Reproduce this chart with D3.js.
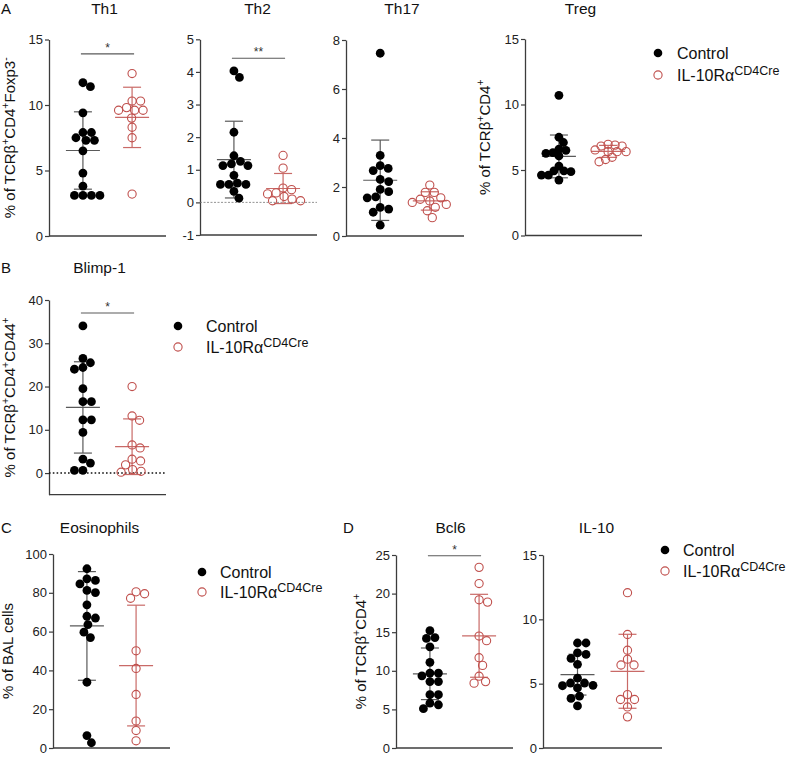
<!DOCTYPE html>
<html>
<head>
<meta charset="utf-8">
<script src="https://cdn.jsdelivr.net/npm/d3@7"></script>
<style>
  body { margin: 0; background: #fff; }
  text { font-family: "Liberation Sans", Arial, sans-serif; }
</style>
</head>
<body>
<svg id="fig" width="788" height="757"></svg>
<script>
'use strict';

// values (% of parent gate), one number per mouse
const groups = ['Control', 'IL-10Ra CD4Cre'];

const th1Control = [11.4, 11.7, 9.4, 7.9, 7.9, 7.5, 7.3, 7.3, 6.5, 4.8, 3.8, 3.1, 3.1, 3.1, 3.1];
const th1Cre = [12.4, 10.3, 10.3, 9.8, 9.6, 9.6, 9.6, 9.0, 8.3, 7.5, 3.2];
const th2Control = [4.03, 3.83, 2.15, 1.43, 1.26, 1.18, 1.13, 1.13, 0.83, 0.59, 0.55, 0.55, 0.55, 0.34, 0.13];
const th2Cre = [1.44, 1.05, 0.44, 0.39, 0.29, 0.26, 0.18, 0.10, 0.05, 0.05];
const th17Control = [7.46, 3.29, 2.87, 2.76, 2.67, 2.31, 2.22, 1.9, 1.81, 1.6, 1.56, 1.17, 1.1, 0.97, 0.44];
const th17Cre = [2.08, 1.78, 1.78, 1.56, 1.5, 1.43, 1.37, 1.29, 1.17, 1.03, 0.75];
const tregControl = [10.7, 7.5, 7.1, 6.6, 6.5, 6.32, 6.27, 6.07, 5.3, 4.94, 4.94, 4.87, 4.61, 4.61, 4.23];
const tregCre = [6.96, 6.9, 6.83, 6.83, 6.53, 6.4, 6.4, 6.4, 5.97, 5.8, 5.63];
const blimpControl = [34.0, 26.5, 25.5, 24.4, 24.0, 19.5, 16.5, 16.5, 12.3, 12.3, 9.4, 3.2, 2.3, 0.6, 0.6];
const blimpCre = [20.0, 13.2, 12.2, 6.5, 5.8, 3.2, 2.8, 1.9, 0.8, 0.4, 0.2];
const eosControl = [92.4, 87.2, 86.4, 84.6, 81.2, 80.1, 73.8, 67.9, 67.0, 63.6, 59.7, 56.9, 33.9, 6.4, 2.7];
const eosCre = [80.5, 79.5, 77.2, 50.1, 41.0, 27.6, 13.9, 9.0, 3.7];
const bcl6Control = [15.2, 14.3, 14.2, 13.1, 11.1, 9.7, 9.7, 9.35, 8.6, 8.6, 6.9, 6.9, 5.8, 5.6, 5.1];
const bcl6Cre = [23.4, 21.3, 19.2, 18.9, 14.5, 13.9, 11.7, 10.7, 9.3, 8.6, 8.4];
const il10Control = [8.16, 8.16, 7.4, 7.27, 6.96, 6.5, 5.43, 5.05, 5.05, 4.87, 4.84, 4.67, 4.03, 3.85, 3.27];
const il10Cre = [12.07, 8.82, 7.6, 6.9, 6.45, 6.45, 4.15, 3.77, 3.77, 3.19, 2.42];

// tick labels
const ticks15 = [0, 5, 10, 15];
const th2Ticks = [-1, 0, 1, 2, 3, 4, 5];
const th17Ticks = [0, 2, 4, 6, 8];
const blimpTicks = [0, 10, 20, 30, 40];
const eosTicks = [0, 20, 40, 60, 80, 100];
const bcl6Ticks = [0, 5, 10, 15, 20, 25];

const tcrLabel = '% of TCRβ^+^CD4^+';

const panels = [
    {title: 'Th1', ctrl: th1Control, cre: th1Cre, domain: [0, 15], ticks: ticks15,
     x: 49, w: 117, top: 39.5, bottom: 236, titleY: 14, titleShift: -3,
     ylabel: '% of TCRβ^+^CD4^+^Foxp3^-', labelGap: 34, sig: {text: '*', at: 13.9}},
    {title: 'Th2', ctrl: th2Control, cre: th2Cre, domain: [-1, 5], ticks: th2Ticks,
     x: 200, w: 117, top: 39.3, bottom: 235, titleY: 14, titleShift: -1,
     zero: 'light', sig: {text: '**', at: 4.42}},
    {title: 'Th17', ctrl: th17Control, cre: th17Cre, domain: [0, 8], ticks: th17Ticks,
     x: 346, w: 118, top: 40, bottom: 236, titleY: 14, titleShift: -3},
    {title: 'Treg', ctrl: tregControl, cre: tregCre, domain: [0, 15], ticks: ticks15,
     x: 525, w: 117, top: 39, bottom: 235.5, titleY: 14, titleShift: -3,
     ylabel: tcrLabel, labelGap: 35, spread: 6.8},
    {title: 'Blimp-1', ctrl: blimpControl, cre: blimpCre, domain: [-5, 40], ticks: blimpTicks,
     x: 49, w: 117, top: 300, bottom: 494.7, titleY: 273, titleShift: -8,
     ylabel: '% of TCRβ^+^CD4^+^CD44^+', labelGap: 34, zero: 'dark', sig: {text: '*', at: 37}},
    {title: 'Eosinophils', ctrl: eosControl, cre: eosCre, domain: [0, 100], ticks: eosTicks,
     x: 53, w: 117, top: 554, bottom: 748, titleY: 533, titleShift: -12,
     ylabel: '% of BAL cells', labelGap: 40},
    {title: 'Bcl6', ctrl: bcl6Control, cre: bcl6Cre, domain: [0, 25], ticks: bcl6Ticks,
     x: 396, w: 117, top: 555, bottom: 748, titleY: 533, titleShift: -4,
     ylabel: tcrLabel, labelGap: 30, sig: {text: '*', at: 24.9}},
    {title: 'IL-10', ctrl: il10Control, cre: il10Cre, domain: [0, 15], ticks: ticks15,
     x: 543, w: 119, top: 555, bottom: 748, titleY: 533, titleShift: -6}
];

const legends = [
    {x: 658, y: 53, textX: 677, gap: 22},
    {x: 178, y: 326, textX: 206, gap: 21},
    {x: 202, y: 572, textX: 220, gap: 20},
    {x: 665, y: 550, textX: 683, gap: 21}
];

const letters = [
    {t: 'A', x: 1, y: 14}, {t: 'B', x: 1, y: 273},
    {t: 'C', x: 1, y: 533}, {t: 'D', x: 343, y: 533}
];

const axisColor = '#3c3c3c';
const ctrlLine = '#5a5a5a';
const creDot = '#c0504d';
const creLine = '#c96a67';

let svg = d3.select('#fig');

// writes "a^sup^b" as text with raised tspans
function richText(sel, str, size, supSize, rise) {
    let parts = str.split('^');
    parts.forEach((s, i) => {
        if (!s) return;
        let sup = i % 2 === 1;
        sel.append('tspan').text(s)
            .attr('font-size', sup ? supSize : size)
            .attr('dy', i === 0 ? 0 : (sup ? -rise : rise));
    });
}

// simple beeswarm: place dots top to bottom at the smallest free offset
function swarm(values, y, cx, d) {
    let pts = values.map(v => ({v: v, y: y(v), dx: 0}))
        .sort((a, b) => a.y - b.y);
    let placed = [];
    pts.forEach(p => {
        for (let k = 0; k < 200; k++) {
            let off = k % 2 === 0 ? -(k / 2) * 0.5 : ((k + 1) / 2) * 0.5;
            let ok = placed.every(q => (off - q.dx) ** 2 + (p.y - q.y) ** 2 >= d * d);
            if (ok) { p.dx = off; break; }
        }
        placed.push(p);
    });
    pts.forEach(p => { p.x = cx + p.dx; });
    return pts;
}

function drawErrorBar(g, values, cx, y, color) {
    let m = d3.mean(values);
    let sd = d3.deviation(values);
    let lines = [
        [cx, y(m - sd), cx, y(m + sd)],
        [cx - 17, y(m), cx + 17, y(m)],
        [cx - 9, y(m + sd), cx + 9, y(m + sd)],
        [cx - 9, y(m - sd), cx + 9, y(m - sd)]
    ];
    g.selectAll(null).data(lines).enter().append('line')
        .attr('x1', d => d[0]).attr('y1', d => d[1])
        .attr('x2', d => d[2]).attr('y2', d => d[3])
        .attr('stroke', color).attr('stroke-width', 1.2);
}

function drawPanel(p) {
    let y = d3.scaleLinear().domain(p.domain).range([p.bottom, p.top]);
    let x = d3.scalePoint().domain(groups).range([p.x, p.x + p.w]).padding(0.69);
    let g = svg.append('g');
    let spread = p.spread || 8.4;

    let axis = g.append('g')
        .attr('transform', 'translate(' + p.x + ',0)')
        .call(d3.axisLeft(y).tickValues(p.ticks).tickSize(4).tickSizeOuter(0).tickPadding(2)
            .tickFormat(d => String(d)));
    axis.select('.domain').attr('stroke', axisColor).attr('stroke-width', 1.3);
    axis.selectAll('.tick line').attr('stroke', axisColor).attr('stroke-width', 1.2);
    axis.selectAll('.tick text').attr('font-size', 13).attr('fill', '#222')
        .attr('font-family', '"Liberation Sans", Arial, sans-serif');

    g.append('line')
        .attr('x1', p.x).attr('x2', p.x + p.w)
        .attr('y1', p.bottom).attr('y2', p.bottom)
        .attr('stroke', axisColor).attr('stroke-width', 1.3);

    if (p.zero === 'light') {
        g.append('line')
            .attr('x1', p.x).attr('x2', p.x + p.w).attr('y1', y(0)).attr('y2', y(0))
            .attr('stroke', '#777').attr('stroke-width', 0.8).attr('stroke-dasharray', '2,1.5');
    } else if (p.zero === 'dark') {
        g.append('line')
            .attr('x1', p.x).attr('x2', p.x + p.w).attr('y1', y(0)).attr('y2', y(0))
            .attr('stroke', '#111').attr('stroke-width', 1.5).attr('stroke-dasharray', '1.6,2.2');
    }

    g.append('text')
        .attr('x', p.x + p.w / 2 + p.titleShift).attr('y', p.titleY)
        .attr('text-anchor', 'middle').attr('font-size', 15.5).attr('fill', '#111')
        .text(p.title);

    if (p.ylabel) {
        let cy = (p.top + p.bottom) / 2;
        let t = g.append('text')
            .attr('transform', 'translate(' + (p.x - p.labelGap) + ',' + cy + ') rotate(-90)')
            .attr('text-anchor', 'middle').attr('fill', '#111');
        richText(t, p.ylabel, 15, 10.5, 6);
    }

    let cC = x(groups[0]);
    let cR = x(groups[1]);
    drawErrorBar(g, p.ctrl, cC, y, ctrlLine);
    drawErrorBar(g, p.cre, cR, y, creLine);

    g.selectAll(null).data(swarm(p.ctrl, y, cC, spread)).enter().append('circle')
        .attr('cx', d => d.x).attr('cy', d => d.y).attr('r', 4.4)
        .attr('fill', '#000');

    g.selectAll(null).data(swarm(p.cre, y, cR, spread)).enter().append('circle')
        .attr('cx', d => d.x).attr('cy', d => d.y).attr('r', 4.1)
        .attr('fill', 'none').attr('stroke', creDot).attr('stroke-width', 1.1);

    if (p.sig) {
        let sy = y(p.sig.at);
        g.append('line')
            .attr('x1', cC - 2).attr('x2', cR + 2).attr('y1', sy).attr('y2', sy)
            .attr('stroke', ctrlLine).attr('stroke-width', 1.1);
        g.append('text')
            .attr('x', (cC + cR) / 2).attr('y', sy - 2)
            .attr('text-anchor', 'middle').attr('font-size', 12).attr('fill', '#333')
            .text(p.sig.text);
    }
}

function drawLegend(l) {
    let g = svg.append('g');
    g.append('circle').attr('cx', l.x).attr('cy', l.y).attr('r', 4.3).attr('fill', '#000');
    g.append('circle').attr('cx', l.x).attr('cy', l.y + l.gap).attr('r', 4.1)
        .attr('fill', 'none').attr('stroke', creDot).attr('stroke-width', 1.1);
    g.append('text').attr('x', l.textX).attr('y', l.y + 6)
        .attr('font-size', 16).attr('fill', '#111').text('Control');
    let t = g.append('text').attr('x', l.textX).attr('y', l.y + l.gap + 6).attr('fill', '#111');
    richText(t, 'IL-10Rα^CD4Cre', 16, 12.5, 6);
}

panels.forEach(drawPanel);
legends.forEach(drawLegend);

svg.selectAll(null).data(letters).enter().append('text')
    .attr('x', d => d.x).attr('y', d => d.y)
    .attr('font-size', 15).attr('fill', '#111')
    .text(d => d.t);
</script>
</body>
</html>
